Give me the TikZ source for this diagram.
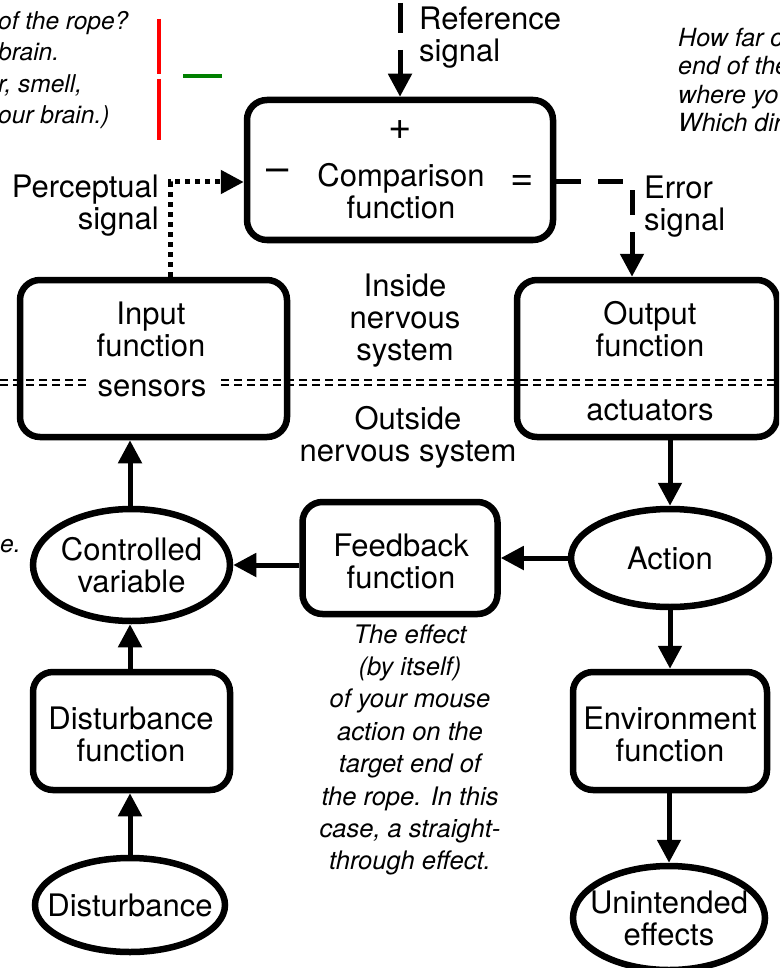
\documentclass[tikz,border=0pt]{standalone}
\usepackage{fontspec}
\setmainfont{TeX Gyre Heros}
\usetikzlibrary{arrows.meta,shapes.geometric}
\begin{document}
\begin{tikzpicture}[x=1pt,y=-1pt,
  box/.style={draw,line width=6.5pt,rounded corners=20pt,inner sep=0pt},
  oval/.style={draw,ellipse,line width=6.5pt,inner sep=0pt},
  big/.style={font=\fontsize{31}{32}\selectfont,align=center,inner sep=0pt},
  sign/.style={font=\fontsize{40}{40}\selectfont,inner sep=0pt},
  note/.style={font=\itshape\fontsize{25.5}{32.4}\selectfont,align=center,inner sep=0pt},
  side/.style={font=\itshape\fontsize{24.5}{31.5}\selectfont,align=left,inner sep=0pt},
  arr/.style={line width=5pt,-{Triangle[length=23pt,width=23pt]}},
  refdash/.style={arr,dash pattern=on 30pt off 17pt},
  errdash/.style={arr,dash pattern=on 25pt off 17pt},
  percdot/.style={arr,dash pattern=on 5pt off 5pt},
  divider/.style={line width=1.1pt,dash pattern=on 8pt off 5pt}]
\useasboundingbox (0,0) rectangle (779,968);
\clip (0,0) rectangle (779,968);

% boxes
\node[box,minimum width=306pt,minimum height=140pt] (comp) at (400,170) {};
\node[box,minimum width=267pt,minimum height=157pt] (input) at (153.5,358.5) {};
\node[box,minimum width=260pt,minimum height=157pt] (output) at (647,358.5) {};
\node[box,minimum width=195pt,minimum height=112pt] (feedback) at (400,558) {};
\node[box,minimum width=197pt,minimum height=118pt] (distfun) at (131.5,731) {};
\node[box,minimum width=194pt,minimum height=118pt] (envfun) at (670,731) {};

% ellipses
\node[oval,minimum width=197pt,minimum height=112pt] (ctrl) at (131.5,565) {};
\node[oval,minimum width=198pt,minimum height=98pt] (action) at (670,558) {};
\node[oval,minimum width=190pt,minimum height=94pt] (dist) at (130,905) {};
\node[oval,minimum width=192pt,minimum height=104pt] (unint) at (669,918) {};

% divider
\coordinate (divL) at (0,385);
\coordinate (divR) at (779,385);
\draw[divider] (divL) -- (divR);
\draw[divider] ([yshift=5pt]divL) -- ([yshift=5pt]divR);

% texts in boxes
\node[big] (comptext) at (401,191) {Comparison\\function};
\node[sign] (plus) at (400,130) {+};
\node[sign] (minus) at (278,175) {–};
\node[sign] (equals) at (522,183) {=};
\node[big] (inputtext) at (151,329) {Input\\function};
\node[big,fill=white,inner xsep=12pt,inner ysep=3pt] (sensors) at (152,388) {sensors};
\node[big] (outputtext) at (650,329) {Output\\function};
\node[big] (actuators) at (650,410) {actuators};
\node[big] (feedbacktext) at (401,561) {Feedback\\function};
\node[big] (disttext) at (131,734) {Disturbance\\function};
\node[big] (envtext) at (670,734) {Environment\\function};
\node[big] (ctrltext) at (ctrl) {Controlled\\variable};
\node[big] (actiontext) at (action) {Action};
\node[big] (disttext2) at (dist) {Disturbance};
\node[big] (uninttext) at (unint) {Unintended\\effects};

% labels
\node[big,anchor=west,align=left] (reflabel) at (419,38) {Reference\\signal};
\node[big,anchor=east,align=right] (perclabel) at (159,206) {Perceptual\\signal};
\node[big,anchor=west,align=left] (errlabel) at (644,207) {Error\\signal};
\node[big] (inside) at (405,321) {Inside\\nervous\\system};
\node[big] (outside) at (408,437) {Outside\\nervous system};

% notes
\node[note] (feedbacknote) at (410,750) {The effect\\(by itself)\\of your mouse\\action on the\\target end of\\the rope. In this\\case, a straight-\\through effect.};
\node[side,anchor=west] (leftnote) at (-2,70) {of the rope?\\brain.\\r, smell,\\our brain.)};
\node[side,anchor=west,font=\itshape\fontsize{25}{28.5}\selectfont] (rightnote) at (678,80) {How far c\\end of the\\where yo\\Which dir};
\node[side,anchor=west] (enote) at (0,546) {e.};

% signal connectors
\coordinate (refstart) at (400,3);
\draw[refdash] (refstart) -- (comp.north);
\coordinate (errc) at (632,182);
\draw[errdash] (comp.east |- errc) -- (errc) -- (errc |- output.north);
\coordinate (percc) at (170,182);
\draw[percdot] (input.north -| percc) -- (percc) -- (percc -| comp.west);

% solid connectors
\draw[arr] (action.north |- output.south) -- (action.north);
\draw[arr] (action.west) -- (action.west -| feedback.east);
\draw[arr] (feedback.west |- ctrl.east) -- (ctrl.east);
\draw[arr] (ctrl.north -| 130,0) -- (input.south -| 130,0);
\draw[arr] (distfun.north -| 130,0) -- (ctrl.south -| 130,0);
\draw[arr] (dist.north) -- (dist.north |- distfun.south);
\draw[arr] (action.south) -- (action.south |- envfun.north);
\draw[arr] (envfun.south -| unint.north) -- (unint.north);

% coloured marks
\coordinate (r1) at (159,19);
\coordinate (r2) at (159,74);
\coordinate (r3) at (159,79);
\coordinate (r4) at (159,140);
\draw[red,line width=4pt] (r1) -- (r2);
\draw[red,line width=4pt] (r3) -- (r4);
\coordinate (g1) at (183,76);
\coordinate (g2) at (222,76);
\draw[green!50!black,line width=3.5pt] (g1) -- (g2);
\end{tikzpicture}
\end{document}
